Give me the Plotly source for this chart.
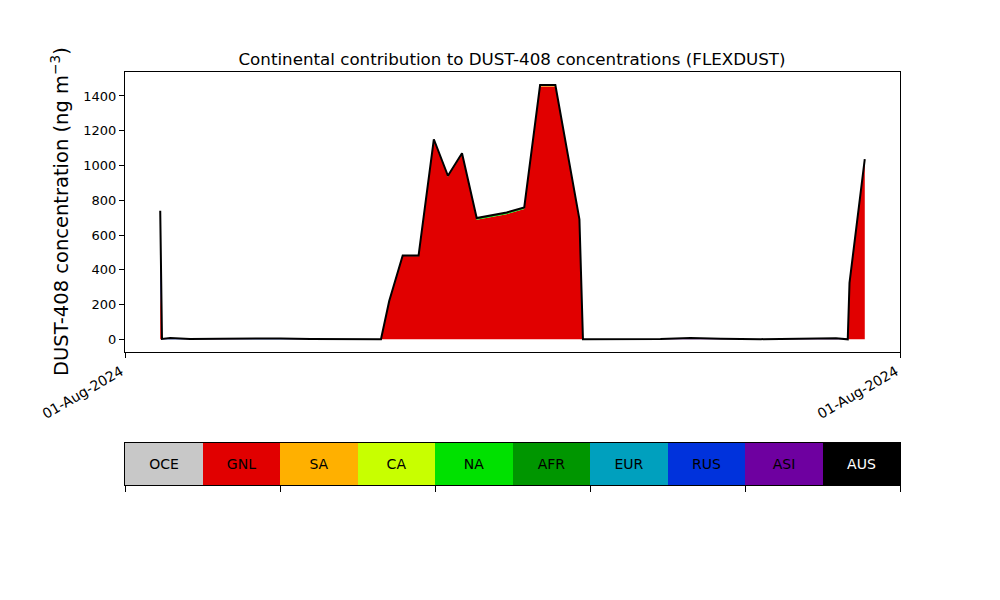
import plotly.graph_objects as go

# ---------------- data ----------------
times = ["01:00", "01:03", "01:17", "01:51", "02:42", "03:33", "04:25", "05:16", "06:07", "06:58",
         "07:16", "07:30", "07:53", "08:20", "08:46", "09:10", "09:34", "09:59", "10:24", "10:50",
         "11:20", "11:47", "12:13", "12:37", "12:54", "13:00", "13:47", "15:12", "16:03", "16:55",
         "18:03", "19:28", "20:11", "20:31", "20:34", "21:00"]
dates = ["2024-08-01 " + t for t in times]

regions = ["OCE", "GNL", "SA", "CA", "NA", "AFR", "EUR", "RUS", "ASI", "AUS"]
colors = ["#c8c8c8", "#e10000", "#ffb000", "#c8ff00", "#00e100",
          "#009600", "#00a0be", "#0032dc", "#6e00a0", "#000000"]

OCE = [0] * 36
GNL = [330, 0, 0, 0, 0, 0, 0, 0, 0, 0,
       0, 218, 479, 478, 1145, 935, 1064, 688, 702, 720,
       750, 1455, 1455, 1012, 680, 0, 0, 0, 0, 0,
       0, 0, 0, 0, 322, 1030]
SA = [0] * 21 + [3, 3] + [0] * 13
CA = [0] * 23 + [2, 3] + [0] * 11
NA = [0] * 14 + [2, 2, 3, 6, 6, 6, 5, 1, 1, 4, 5] + [0] * 11
AFR = [0] * 36
EUR = [0] * 36
RUS = [150, 0, 3, 0, 0, 2, 2, 0, 0, 0,
       0, 0, 0, 0, 0, 0, 0, 0, 0, 0,
       0, 0, 0, 0, 0, 0, 0, 0, 3, 0,
       0, 0, 2, 0, 1, 2]
ASI = [200, 2, 5, 2, 3, 4, 3, 2, 1, 0,
       0, 0, 0, 0, 0, 0, 0, 0, 0, 0,
       0, 0, 0, 0, 0, 0, 1, 2, 5, 3,
       1, 2, 4, 0, 0, 0]
AUS = [60, 0, 0, 0, 0, 0, 0, 0, 0, 0,
       0, 2, 3, 4, 4, 4, 4, 4, 4, 4,
       4, 4, 4, 4, 2, 0, 0, 0, 0, 0,
       0, 0, 0, 0, 2, 5]
series = [OCE, GNL, SA, CA, NA, AFR, EUR, RUS, ASI, AUS]

y_ticks = [0, 200, 400, 600, 800, 1000, 1200, 1400]
x_tick_vals = ["2024-08-01 00:00", "2024-08-01 22:00"]
x_tick_text = ["01-Aug-2024", "01-Aug-2024"]

FONT = "DejaVu Sans"

fig = go.Figure()

for name, col, vals in zip(regions, colors, series):
    fig.add_trace(go.Scatter(
        x=dates, y=vals, name=name, stackgroup="one", mode="lines",
        line=dict(width=0, color=col), fillcolor=col, showlegend=False,
        hoverinfo="x+y+name"))

total = [sum(v) for v in zip(*series)]
fig.add_trace(go.Scatter(x=dates, y=total, mode="lines",
                         line=dict(color="black", width=2), showlegend=False,
                         hoverinfo="skip"))

# colour key bar
fig.add_trace(go.Bar(
    x=list(range(len(regions))), y=[1] * len(regions), width=1,
    marker=dict(color=colors, line=dict(width=0)),
    text=regions, textposition="inside", insidetextanchor="middle",
    textangle=0,
    textfont=dict(family=FONT, size=14,
                  color=["white" if c == "#000000" else "black" for c in colors]),
    xaxis="x2", yaxis="y2", showlegend=False, hoverinfo="skip"))

fig.update_layout(
    width=1000, height=600,
    margin=dict(l=0, r=0, t=0, b=0, autoexpand=False),
    paper_bgcolor="white", plot_bgcolor="white",
    font=dict(family=FONT, size=13, color="black"),
    title=dict(text="Continental contribution to DUST-408 concentrations (FLEXDUST)",
               x=0.504, xanchor="center", y=1 - 51 / 600, yanchor="middle",
               automargin=False,
               font=dict(family=FONT, size=16.7, color="black")),
    xaxis=dict(domain=[0.117, 0.892], type="date", automargin=False,
               range=["2024-08-01 00:00", "2024-08-01 22:00"],
               tickvals=x_tick_vals, ticktext=x_tick_text, tickangle=-30,
               ticklabelshift=-4,
               ticks="outside", ticklen=5, tickcolor="black",
               showline=True, linecolor="black", linewidth=1.2, mirror=True,
               showgrid=False, zeroline=False,
               tickfont=dict(family=FONT, size=14)),
    yaxis=dict(domain=[256 / 600, 536 / 600], range=[-73, 1538], automargin=False,
               tickvals=y_ticks, ticks="outside", ticklen=5, tickcolor="black",
               showline=True, linecolor="black", linewidth=1.2, mirror=True,
               showgrid=False, zeroline=False,
               tickfont=dict(family=FONT, size=13)),
    xaxis2=dict(domain=[0.117, 0.892], anchor="y2", range=[-0.5, 9.5], automargin=False,
                tickvals=[-0.5, 1.5, 3.5, 5.5, 7.5, 9.5], showticklabels=False,
                ticks="outside", ticklen=6, tickcolor="black",
                showline=True, linecolor="black", linewidth=1.2, mirror=True,
                showgrid=False, zeroline=False, fixedrange=True),
    yaxis2=dict(domain=[123 / 600, 165 / 600], anchor="x2", range=[0, 1], automargin=False,
                showticklabels=False, ticks="",
                showline=True, linecolor="black", linewidth=1.2, mirror=True,
                showgrid=False, zeroline=False, fixedrange=True),
    bargap=0,
    uniformtext=dict(minsize=14, mode="show"),
    annotations=[dict(text="DUST-408 concentration (ng m<sup>−3</sup>)",
                      xref="paper", yref="paper", x=52 / 1000, y=1 - 204 / 600,
                      xanchor="center", yanchor="middle", textangle=-90,
                      showarrow=False, font=dict(family=FONT, size=19.5, color="black"))],
)

fig.write_html("out.html")
